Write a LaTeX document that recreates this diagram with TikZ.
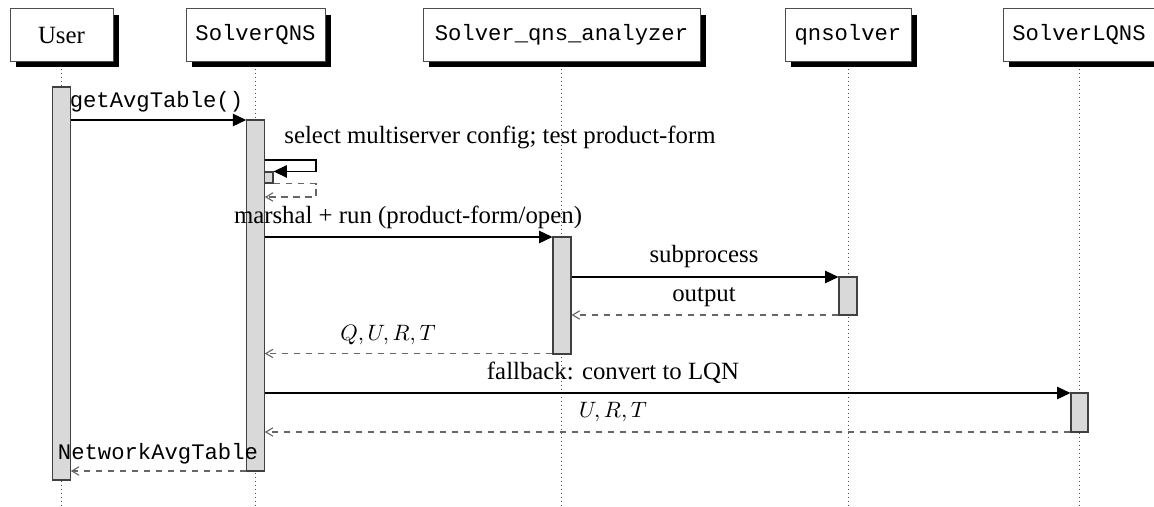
\documentclass[tikz,border=0pt]{standalone}
\usepackage{fontspec}
\setmainfont{Liberation Serif}[Scale=1.116]
\setmonofont{Liberation Mono}
\usetikzlibrary{arrows.meta,shadows,fit}

\begin{document}
\begin{tikzpicture}[x=0.45pt,y=-0.45pt,
  header/.style={draw=black!70, line width=0.4pt, fill=white,
    minimum height=23.6pt, inner sep=0pt,
    drop shadow={fill=black, opacity=1, shadow xshift=2.7pt, shadow yshift=-2.7pt}},
  lifeline/.style={draw=black!70, line width=0.45pt, dash pattern=on 0.45pt off 1.35pt},
  actbar/.style={draw=black!75, fill=black!15, line width=0.5pt, inner sep=0pt},
  callmsg/.style={draw=black, line width=0.5pt, -{Triangle[length=6pt,width=5.6pt]}},
  retmsg/.style={draw=black!60, line width=0.5pt, dash pattern=on 3pt off 2.4pt,
    -{Straight Barb[length=3.2pt,width=3.8pt]}},
  msglabel/.style={anchor=base, inner sep=0pt},
]
\useasboundingbox (0,0) rectangle (1154,506);
\coordinate (bottom) at (0,506);

% participants
\node[header, minimum width=46.35pt]  (user) at (61.5,35)  {User};
\node[header, minimum width=62.55pt]  (qns)  at (255.5,35) {\ttfamily SolverQNS};
\node[header, minimum width=124.65pt] (ana)  at (561.5,35) {\ttfamily Solver\_qns\_analyzer};
\node[header, minimum width=56.7pt]   (qs)   at (848,35)   {\ttfamily qnsolver};
\node[header, minimum width=68.4pt]   (lqns) at (1079,35)  {\ttfamily SolverLQNS};

% lifelines
\foreach \p in {user,qns,ana,qs,lqns}
  \draw[lifeline] (\p.south) ++(0,7) -- (\p.south |- bottom);

% activation bars
\node[actbar, fit={(52.75,87) (70.25,480)}]    (userBar) {};
\node[actbar, fit={(246.75,120) (264.25,471)}] (qnsBar)  {};
\node[actbar, fit={(264.25,172) (273,183)}]    (nest)    {};
\node[actbar, fit={(553,237) (571,354)}]       (anaBar)  {};
\node[actbar, fit={(839,277) (857,315)}]       (qsBar)   {};
\node[actbar, fit={(1071,393) (1088,432)}]     (lqnsBar) {};

% message rows
\coordinate (m1) at (0,120);
\coordinate (sTop) at (316,160);
\coordinate (sRet) at (0,197);
\coordinate (m3) at (0,237);
\coordinate (m4) at (0,277);
\coordinate (m5) at (0,315);
\coordinate (m6) at (0,353.5);
\coordinate (m7) at (0,393);
\coordinate (m8) at (0,432);
\coordinate (m9) at (0,471);

% messages
\draw[callmsg] (userBar.east |- m1) -- (qnsBar.west |- m1);
\node[msglabel] (l1) at (156.5,107) {\ttfamily getAvgTable()};

\draw[callmsg] (qnsBar.east |- sTop) -- (sTop) |- (nest.north east);
\draw[retmsg] (nest.south east) -- (nest.south east -| sTop) |- (qnsBar.east |- sRet);
\node[msglabel] (l2) at (500,143) {select multiserver config; test product-form};

\draw[callmsg] (qnsBar.east |- m3) -- (anaBar.west |- m3);
\node[msglabel] (l3) at (408,223) {marshal + run (product-form/open)};

\draw[callmsg] (anaBar.east |- m4) -- (qsBar.west |- m4);
\node[msglabel] (l4) at (704,262) {subprocess};

\draw[retmsg] (qsBar.west |- m5) -- (anaBar.east |- m5);
\node[msglabel] (l5) at (704,301) {output};

\draw[retmsg] (anaBar.west |- m6) -- (qnsBar.east |- m6);
\node[msglabel] (l6) at (388,340) {$Q, U, R, T$};

\draw[callmsg] (qnsBar.east |- m7) -- (lqnsBar.west |- m7);
\node[msglabel] (l7) at (613,379) {fallback: convert to LQN};

\draw[retmsg] (lqnsBar.west |- m8) -- (qnsBar.east |- m8);
\node[msglabel] (l8) at (613,417) {$U, R, T$};

\draw[retmsg] (qnsBar.west |- m9) -- (userBar.east |- m9);
\node[msglabel] (l9) at (158,459) {\ttfamily NetworkAvgTable};
\end{tikzpicture}
\end{document}
